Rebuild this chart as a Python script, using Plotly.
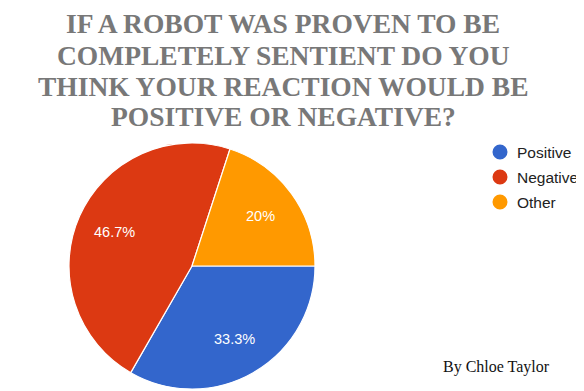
import math
import plotly.graph_objects as go

labels = ["Positive", "Negative", "Other"]
values = [33.3, 46.7, 20.0]
colors = ["#3366cc", "#dc3912", "#ff9900"]
title_lines = ["IF A ROBOT WAS PROVEN TO BE", "COMPLETELY SENTIENT DO YOU",
               "THINK YOUR REACTION WOULD BE", "POSITIVE OR NEGATIVE?"]
credit = "By Chloe Taylor"

# page body has an 8px margin, so figure is 8px smaller than the window
W, H = 576, 383
cx, cy, r = 184, 258, 123
start_deg = 90

fig = go.Figure()
fig.add_trace(go.Pie(
    labels=labels, values=values, sort=False, direction="clockwise", rotation=start_deg,
    marker=dict(colors=colors, line=dict(color="white", width=1.2)),
    textinfo="none", showlegend=False, hoverinfo="label+percent",
    domain=dict(x=[(cx - r) / W, (cx + r) / W], y=[(H - cy - r) / H, (H - cy + r) / H]),
))

annotations = []
# slice labels, placed along each slice's mid-angle
total = sum(values)
acc = 0.0
for v in values:
    mid = start_deg + (acc + v / 2) / total * 360
    acc += v
    rad = math.radians(mid)
    px = cx + 0.69 * r * math.sin(rad)
    py = cy - 0.69 * r * math.cos(rad)
    annotations.append(dict(text=f"{v:g}%", x=px / W, y=1 - py / H, xref="paper", yref="paper",
                            showarrow=False, xanchor="center", yanchor="middle",
                            font=dict(family="Liberation Sans", size=14.5, color="white")))

# title lines
for i, line in enumerate(title_lines):
    ty = [16, 48, 78, 108][i]
    annotations.append(dict(text=f"<b>{line}</b>", x=275 / W, y=1 - ty / H, xref="paper", yref="paper",
                            showarrow=False, xanchor="center", yanchor="middle",
                            font=dict(family="Liberation Serif", size=27.5, color="#787878")))

# legend
shapes = []
for i, (lab, col) in enumerate(zip(labels, colors)):
    ly = 144 + 25 * i
    lx = 492
    shapes.append(dict(type="circle", xref="paper", yref="paper",
                       x0=(lx - 7.5) / W, x1=(lx + 7.5) / W,
                       y0=1 - (ly + 7.5) / H, y1=1 - (ly - 7.5) / H,
                       fillcolor=col, line=dict(width=0)))
    annotations.append(dict(text=lab, x=507 / W, y=1 - ly / H, xref="paper", yref="paper",
                            showarrow=False, xanchor="left", yanchor="middle",
                            font=dict(family="Liberation Sans", size=15.5, color="#222222")))

annotations.append(dict(text=credit, x=488 / W, y=1 - 359 / H, xref="paper", yref="paper",
                        showarrow=False, xanchor="center", yanchor="middle",
                        font=dict(family="Liberation Serif", size=16, color="#111111")))

fig.update_layout(
    width=W, height=H, margin=dict(l=0, r=0, t=0, b=0),
    paper_bgcolor="white", plot_bgcolor="white",
    annotations=annotations, shapes=shapes,
)
fig.write_html("out.html")
